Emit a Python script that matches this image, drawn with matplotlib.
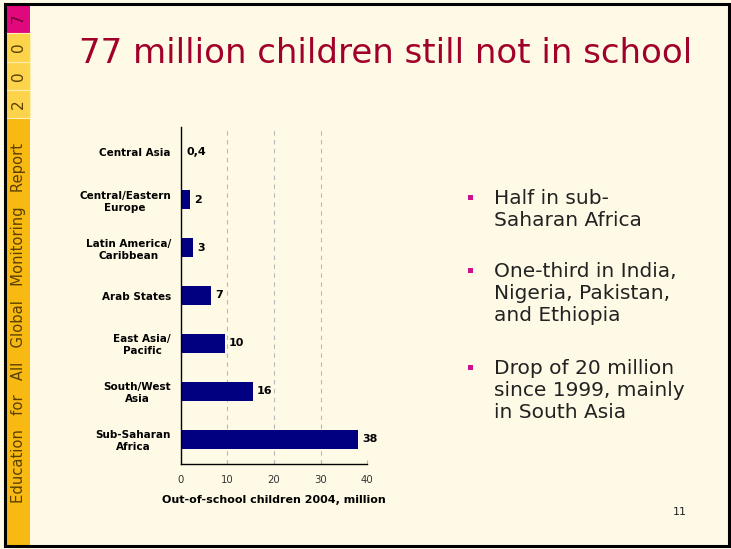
import matplotlib
matplotlib.use("Agg")
import matplotlib.pyplot as plt
from matplotlib.patches import Rectangle

### chart data
regions = ["Central Asia", "Central/Eastern\nEurope", "Latin America/\nCaribbean",
           "Arab States", "East Asia/\nPacific", "South/West\nAsia", "Sub-Saharan\nAfrica"]
children = [0.4, 2.0, 2.6, 6.5, 9.5, 15.5, 38.0]
value_labels = ["0,4", "2", "3", "7", "10", "16", "38"]
xticks = [0, 10, 20, 30, 40]

bullets = ["Half in sub-\nSaharan Africa",
           "One-third in India,\nNigeria, Pakistan,\nand Ethiopia",
           "Drop of 20 million\nsince 1999, mainly\nin South Asia"]
bullet_y = [192, 265, 362]   # cap top of first line, pixels

W, H = 731, 549
bg = "#fffae6"

def fx(x):
    return x / W

def fy(y):
    return 1 - y / H

fig = plt.figure(figsize=(W / 100, H / 100), dpi=100)
fig.patch.set_facecolor(bg)

### left strip with the year boxes
fig.add_artist(Rectangle((fx(5), fy(546)), fx(25), 542 / H, transform=fig.transFigure,
                         facecolor="#f7b912", edgecolor="none"))
fig.add_artist(Rectangle((fx(5), fy(33)), fx(25), 29 / H, transform=fig.transFigure,
                         facecolor="#e0087c", edgecolor="none"))
for top, bot, digit in [(33, 62, "0"), (62, 90, "0"), (90, 118, "2")]:
    fig.add_artist(Rectangle((fx(5), fy(bot)), fx(25), (bot - top) / H, transform=fig.transFigure,
                             facecolor="#fed34c", edgecolor="#fff0b0", linewidth=0.8))
    fig.text(fx(18), fy((top + bot) / 2), digit, rotation=90, ha="center", va="center",
             fontsize=11, color="#5a4000")
fig.text(fx(18), fy(18), "7", rotation=90, ha="center", va="center", fontsize=11, color="#6a0030")
fig.text(fx(19), fy(323), "Education   for   All   Global   Monitoring   Report", rotation=90,
         ha="center", va="center", fontsize=10.6, color="#5a4000")

### slide border
fig.add_artist(Rectangle((fx(5), fy(546)), fx(724), 542 / H, transform=fig.transFigure,
                         facecolor="none", edgecolor="black", linewidth=2.2))

### title
fig.text(fx(386), fy(63), "77 million children still not in school", ha="center", va="baseline",
         fontsize=24.5, color="#a0002a")

### bar chart
ax = fig.add_axes([fx(180.5), fy(464), (367.3 - 180.5) / W, (464 - 127) / H])
ax.set_facecolor(bg)
ypos = list(range(len(regions)))
ax.barh(ypos, children, height=0.4, color="#000080")
for y, v, lab in zip(ypos, children, value_labels):
    ax.text(v + 0.9, y, lab, ha="left", va="center", fontsize=8, fontweight="bold", color="black")
ax.set_xlim(0, 40)
ax.set_ylim(6.52, -0.52)
ax.set_xticks(xticks)
ax.set_xticklabels([str(t) for t in xticks], fontsize=7.3, color="#333333")
ax.set_yticks(ypos)
ax.set_yticklabels(regions, fontsize=7.5, fontweight="bold", ha="right",
                   multialignment="center", linespacing=1.25)
ax.tick_params(axis="y", length=0, pad=7)
ax.tick_params(axis="x", direction="in", length=3, color="#bbbbbb", pad=8)
ax.xaxis.grid(True, linestyle=(0, (4, 4)), color="#b8b8b8", linewidth=0.8)
ax.set_axisbelow(True)
for s in ["top", "right"]:
    ax.spines[s].set_visible(False)
ax.spines["left"].set_linewidth(1.0)
ax.spines["bottom"].set_linewidth(1.0)
ax.set_xlabel("Out-of-school children 2004, million", fontsize=8, fontweight="bold", labelpad=7)

### bullet list on the right
for y, txt in zip(bullet_y, bullets):
    fig.add_artist(Rectangle((fx(468), fy(y + 8)), fx(5), 5 / H, transform=fig.transFigure,
                             facecolor="#d0108a", edgecolor="none"))
    fig.text(fx(494), fy(y - 3), txt, ha="left", va="top", fontsize=14.5, color="#222222",
             linespacing=1.2)

fig.text(fx(680), fy(512), "11", ha="center", va="center", fontsize=8, color="#222222")

plt.savefig("out.png", dpi=100, facecolor=bg)
